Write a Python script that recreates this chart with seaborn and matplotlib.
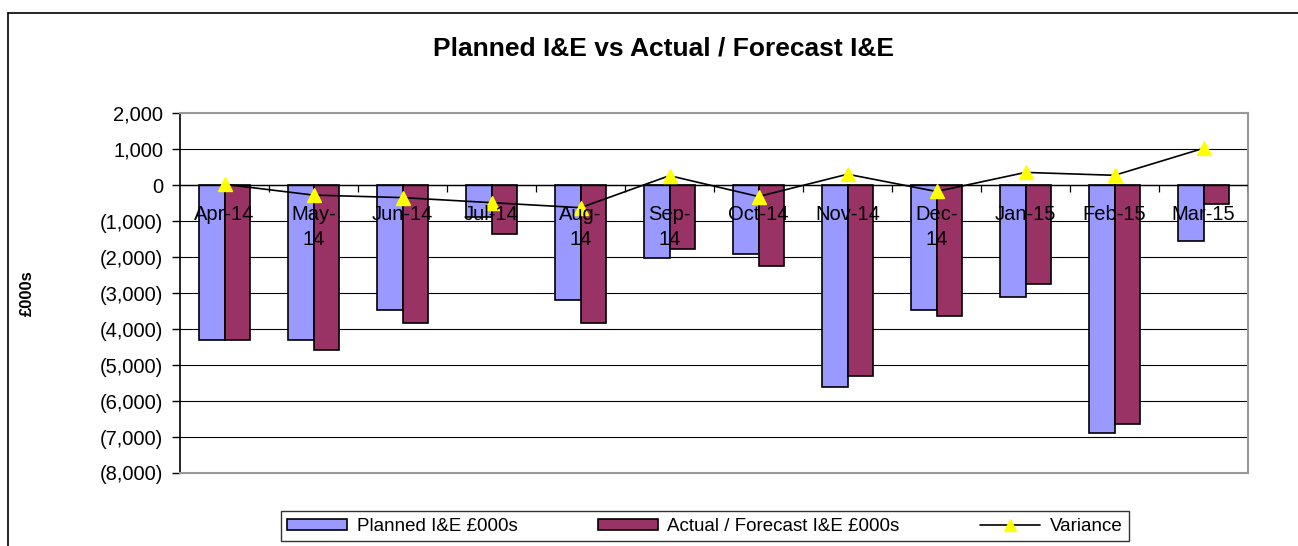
import matplotlib.pyplot as plt
import numpy as np
import pandas as pd
import seaborn as sns
from matplotlib.lines import Line2D
from matplotlib.patches import Patch
from matplotlib.ticker import FuncFormatter

# Data (£000s)
months = ["Apr-14", "May-\n14", "Jun-14", "Jul-14", "Aug-\n14", "Sep-\n14",
          "Oct-14", "Nov-14", "Dec-\n14", "Jan-15", "Feb-15", "Mar-15"]
planned = [-4300, -4300, -3470, -880, -3190, -2040, -1920, -5600, -3470, -3110, -6900, -1550]
actual = [-4300, -4580, -3820, -1370, -3820, -1780, -2240, -5300, -3650, -2760, -6630, -530]
variance = [20, -280, -350, -490, -630, 260, -320, 300, -180, 350, 270, 1020]
series_names = ["Planned I&E £000s", "Actual / Forecast I&E £000s"]
y_ticks = list(range(-8000, 2001, 1000))

blue = "#9999FF"
maroon = "#993366"

sns.set_style("white", {"text.color": "black", "axes.labelcolor": "black",
                        "xtick.color": "black", "ytick.color": "black"})
plt.rcParams["font.family"] = ["Liberation Sans", "DejaVu Sans"]

df = pd.DataFrame({
    "month": months * 2,
    "value": planned + actual,
    "series": [series_names[0]] * len(months) + [series_names[1]] * len(months),
})

fig = plt.figure(figsize=(12.98, 5.46), dpi=100)
ax = fig.add_axes([0.1387, 0.1337, 0.8228, 0.6593])

# gridlines behind bars
for t in y_ticks[1:-1]:
    ax.axhline(t, color="black", lw=0.8, zorder=0)

sns.barplot(data=df, x="month", y="value", hue="series", order=months,
            palette=[blue, maroon], saturation=1, width=0.58, edgecolor="black",
            linewidth=1.2, errorbar=None, legend=False, ax=ax, zorder=2)

# zero line with category tick marks
ax.axhline(0, color="black", lw=1, zorder=3)
ax.vlines(np.arange(len(months)) + 0.5, -190, 0, color="black", lw=0.9, zorder=3)

# variance line
ax.plot(np.arange(len(months)), variance, color="black", lw=1.2, marker="^",
        mfc="yellow", mec="yellow", ms=10, zorder=4)

# month labels sitting just below the zero line
for i, lab in enumerate(months):
    ax.text(i, -560, lab, ha="center", va="top", fontsize=14.5, color="black",
            linespacing=1.4, zorder=5)

ax.set_xlim(-0.5, len(months) - 0.5)
ax.set_ylim(-8000, 2000)
ax.set_yticks(y_ticks)
ax.yaxis.set_major_formatter(FuncFormatter(
    lambda v, p: f"({abs(v):,.0f})" if v < 0 else f"{v:,.0f}"))
ax.tick_params(axis="y", labelsize=14.5, length=6, width=1, color="black",
               labelcolor="black", pad=6, left=True)
ax.tick_params(axis="x", length=0, labelbottom=False)
ax.set_xlabel("")
ax.set_ylabel("")

for side in ["top", "right", "bottom"]:
    ax.spines[side].set_color("#999999")
    ax.spines[side].set_linewidth(1.5)
ax.spines["left"].set_color("black")
ax.spines["left"].set_linewidth(1.2)

fig.text(0.511, 0.912, "Planned I&E vs Actual / Forecast I&E", ha="center",
         va="center", fontsize=19, fontweight="bold", color="black")
fig.text(0.021, 0.463, "£000s", rotation=90, ha="center", va="center",
         fontsize=12, fontweight="bold", color="black")

handles = [
    Patch(facecolor=blue, edgecolor="black", linewidth=1.2, label=series_names[0]),
    Patch(facecolor=maroon, edgecolor="black", linewidth=1.2, label=series_names[1]),
    Line2D([0], [0], color="black", lw=1.2, marker="^", mfc="yellow", mec="yellow",
           ms=9, label="Variance"),
]
leg = fig.legend(handles=handles, loc="center", bbox_to_anchor=(0.543, 0.036),
                 ncol=3, fontsize=13.5, frameon=True, fancybox=False,
                 handlelength=3.2, handleheight=0.5, columnspacing=4.3,
                 borderpad=0.35, handletextpad=0.5, borderaxespad=0)
leg.get_frame().set_edgecolor("black")
leg.get_frame().set_linewidth(1)
for t in leg.get_texts():
    t.set_color("black")

# outer chart frame (left and top edges visible)
fig.add_artist(Line2D([8 / 1298, 8 / 1298], [0, 1 - 13 / 546],
                      transform=fig.transFigure, color="black", lw=1.2))
fig.add_artist(Line2D([8 / 1298, 1], [1 - 13 / 546, 1 - 13 / 546],
                      transform=fig.transFigure, color="black", lw=1.2))

fig.savefig("out.png", dpi=100)
